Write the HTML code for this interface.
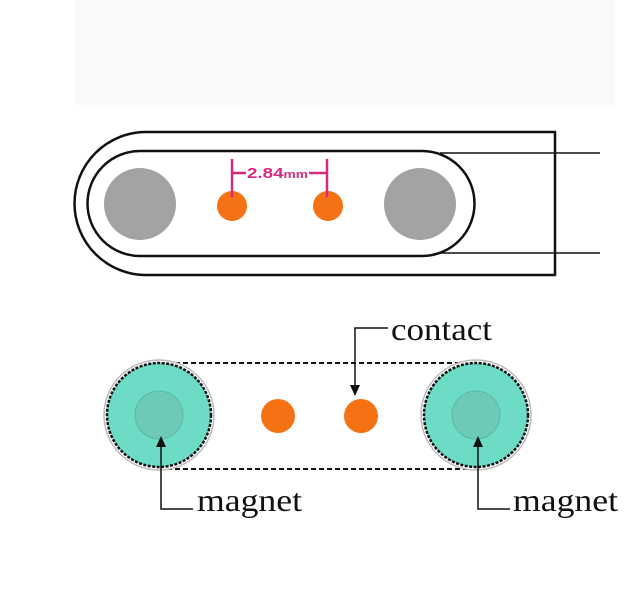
<!DOCTYPE html>
<html><head><style>body{margin:0;background:#fff}svg{display:block}</style></head>
<body>
<svg width="640" height="602" viewBox="0 0 640 602" xmlns="http://www.w3.org/2000/svg">
<rect x="75" y="0" width="540" height="105" fill="#fbfafb"/>
<!-- top diagram -->
<path d="M555,132 L146,132 A71.5,71.5 0 0 0 146,275 L555,275 Z" fill="none" stroke="#111" stroke-width="2.5"/>
<path d="M140,151 L422,151 A52.5,52.5 0 0 1 422,256 L140,256 A52.5,52.5 0 0 1 140,151 Z" fill="none" stroke="#111" stroke-width="2.5"/>
<line x1="440" y1="153" x2="600" y2="153" stroke="#111" stroke-width="1.5"/>
<line x1="440" y1="253" x2="600" y2="253" stroke="#111" stroke-width="1.5"/>
<circle cx="140" cy="204" r="36" fill="#a3a3a3"/>
<circle cx="420" cy="204" r="36" fill="#a3a3a3"/>
<circle cx="232" cy="206" r="15" fill="#f57214"/>
<circle cx="328" cy="206" r="15" fill="#f57214"/>
<g stroke="#d6287f" stroke-width="2.5">
<line x1="232" y1="159" x2="232" y2="197"/>
<line x1="327" y1="159" x2="327" y2="197"/>
<line x1="232" y1="173" x2="246" y2="173"/>
<line x1="309" y1="173" x2="327" y2="173"/>
</g>
<text x="247" y="178" font-family="Liberation Sans, sans-serif" font-size="15" font-weight="bold" fill="#d6287f" textLength="61" lengthAdjust="spacingAndGlyphs">2.84<tspan font-size="11">mm</tspan></text>
<!-- bottom diagram -->
<line x1="159" y1="363" x2="476" y2="363" stroke="#111" stroke-width="2" stroke-dasharray="5,3"/>
<line x1="159" y1="469" x2="476" y2="469" stroke="#111" stroke-width="2" stroke-dasharray="5,3"/>
<circle cx="159" cy="415" r="55" fill="#fff" stroke="#bbb" stroke-width="1.5"/>
<circle cx="159" cy="415" r="52" fill="#6ddcc6" stroke="#111" stroke-width="2.5" stroke-dasharray="3,1.5"/>
<circle cx="159" cy="415" r="24" fill="#6ccab7" stroke="#5cb8a6" stroke-width="1"/>
<circle cx="476" cy="415" r="55" fill="#fff" stroke="#bbb" stroke-width="1.5"/>
<circle cx="476" cy="415" r="52" fill="#6ddcc6" stroke="#111" stroke-width="2.5" stroke-dasharray="3,1.5"/>
<circle cx="476" cy="415" r="24" fill="#6ccab7" stroke="#5cb8a6" stroke-width="1"/>
<circle cx="278" cy="416" r="17" fill="#f57214"/>
<circle cx="361" cy="416" r="17" fill="#f57214"/>
<g stroke="#111" stroke-width="1.5" fill="none">
<polyline points="388,328 355,328 355,388"/>
<polyline points="161,442 161,509 193,509"/>
<polyline points="478,442 478,509 510,509"/>
</g>
<g fill="#111">
<polygon points="355,396 350,385 360,385"/>
<polygon points="161,436 156,447 166,447"/>
<polygon points="478,436 473,447 483,447"/>
</g>
<g font-family="Liberation Serif, serif" font-size="32" fill="#111">
<text x="391" y="340" textLength="101" lengthAdjust="spacingAndGlyphs">contact</text>
<text x="197" y="511" textLength="105" lengthAdjust="spacingAndGlyphs">magnet</text>
<text x="513" y="511" textLength="105" lengthAdjust="spacingAndGlyphs">magnet</text>
</g>
</svg>
</body></html>
